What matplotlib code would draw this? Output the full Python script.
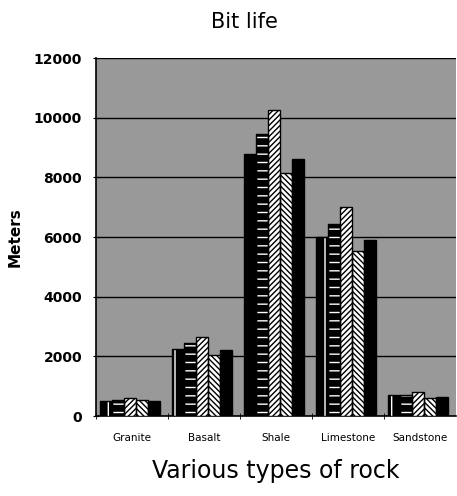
import numpy as np
import matplotlib.pyplot as plt

rocks = ["Granite", "Basalt", "Shale", "Limestone", "Sandstone"]
bit1 = [500, 2250, 8800, 6000, 700]
bit2 = [550, 2450, 9450, 6450, 700]
bit3 = [600, 2650, 10250, 7000, 800]
bit4 = [550, 2050, 8150, 5550, 600]
bit5 = [500, 2200, 8600, 5900, 650]
series = [bit1, bit2, bit3, bit4, bit5]
yticks = [0, 2000, 4000, 6000, 8000, 10000, 12000]

# face, hatch colour, hatch
styles = [("black", "white", "|"),
          ("black", "white", "--"),
          ("white", "black", "//////"),
          ("white", "black", "\\\\\\\\\\\\"),
          ("black", "black", "")]

fig = plt.figure(figsize=(4.57, 4.96), dpi=100)
ax = fig.add_axes([0.21, 0.161, 0.788, 0.722])
ax.set_facecolor("#999999")

x = np.arange(len(rocks))
w = 0.165
start = -0.5 + 0.06
for i, vals in enumerate(series):
    face, hc, h = styles[i]
    pos = x + start + w * i + w / 2
    ax.bar(pos, vals, width=w, color=face, edgecolor=hc, hatch=h, linewidth=0, zorder=3)
    ax.bar(pos, vals, width=w, fill=False, edgecolor="black", linewidth=1, zorder=4)

ax.set_xlim(-0.5, len(rocks) - 0.5)
ax.set_ylim(0, 12000)
ax.set_yticks(yticks)
ax.set_yticklabels([str(v) for v in yticks], fontsize=10, fontweight="bold")
ax.set_xticks(x)
ax.set_xticklabels(rocks, fontsize=7.5)
ax.tick_params(axis="x", length=0, pad=12)
ax.set_xticks(np.arange(len(rocks)) - 0.5, minor=True)
ax.tick_params(axis="x", which="minor", length=4, direction="inout")
ax.tick_params(axis="y", length=4, direction="inout", pad=8)
ax.grid(axis="y", color="black", linewidth=1, zorder=1)
ax.set_axisbelow(True)
for s in ["top", "right"]:
    ax.spines[s].set_visible(False)
ax.spines["left"].set_linewidth(1.2)
ax.spines["bottom"].set_linewidth(1.2)

ax.set_ylabel("Meters", fontsize=11, fontweight="bold", labelpad=8)
ax.set_xlabel("Various types of rock", fontsize=17, labelpad=12)
fig.text(0.534, 0.955, "Bit life", fontsize=15, ha="center", va="center")

fig.savefig("out.png", dpi=100)
